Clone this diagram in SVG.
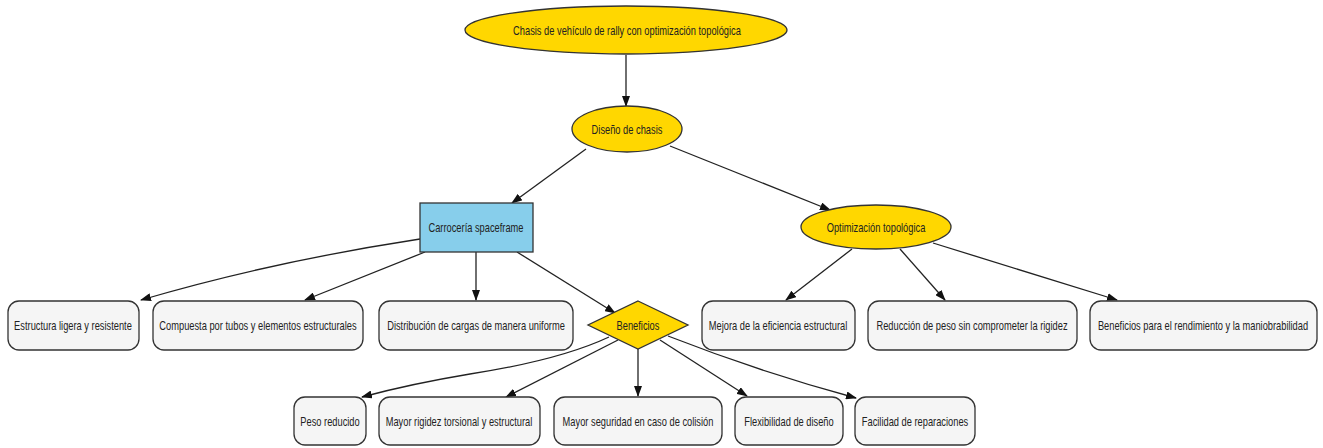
<svg xmlns="http://www.w3.org/2000/svg" width="1323" height="448" viewBox="0 0 1323 448">
<defs>
<marker id="arr" markerWidth="11" markerHeight="8" refX="10" refY="4" orient="auto" markerUnits="userSpaceOnUse">
<path d="M0,0 L11,4 L0,8 z" fill="#111"/>
</marker>
<style>
.t{font-family:"Liberation Sans",Arial,sans-serif;font-size:13px;fill:#222;text-anchor:middle;dominant-baseline:central}
.gold{fill:#FFD700;stroke:#333;stroke-width:1.3}
.box{fill:#F5F5F5;stroke:#333;stroke-width:1.3}
.blue{fill:#87CEEB;stroke:#333;stroke-width:1.3}
.e{fill:none;stroke:#222;stroke-width:1.3;marker-end:url(#arr)}
</style>
</defs>
<rect width="1323" height="448" fill="#fff"/>
<g id="connectors">
<path class="e" d="M626,55 L626,106"/>
<path class="e" d="M586,149 L512,203"/>
<path class="e" d="M670,146 L830,210"/>
<path class="e" d="M420,239 Q270,262 141,300"/>
<path class="e" d="M425,252 L305,300"/>
<path class="e" d="M476,252 L476,300"/>
<path class="e" d="M517,252 L615,313"/>
<path class="e" d="M852,249 L786,300"/>
<path class="e" d="M900,249 L945,300"/>
<path class="e" d="M933,243 L1117,300"/>
<path class="e" d="M609,337 Q560,360 470,374 Q410,384 362,397"/>
<path class="e" d="M618,340 L506,397"/>
<path class="e" d="M638,349 L638,396"/>
<path class="e" d="M660,340 L747,396"/>
<path class="e" d="M668,336 Q760,372 856,398"/>
</g>
<g id="n-title"><ellipse class="gold" cx="626" cy="30" rx="161" ry="24"/><text class="t" transform="translate(627,30) scale(0.715,1)">Chasis de vehículo de rally con optimización topológica</text></g>
<g id="n-diseno"><ellipse class="gold" cx="627" cy="129" rx="55" ry="23"/><text class="t" transform="translate(627,129) scale(0.715,1)">Diseño de chasis</text></g>
<g id="n-carroceria"><rect class="blue" x="420" y="203" width="113" height="49"/><text class="t" transform="translate(476,227) scale(0.715,1)">Carrocería spaceframe</text></g>
<g id="n-optim"><ellipse class="gold" cx="876" cy="227" rx="75" ry="22"/><text class="t" transform="translate(876,227) scale(0.715,1)">Optimización topológica</text></g>
<g id="n-beneficios"><polygon class="gold" points="638,301 688,325 638,349 588,325"/><text class="t" transform="translate(638,325) scale(0.715,1)">Beneficios</text></g>
<g id="n-estructura"><rect class="box" x="8" y="301" width="131" height="49" rx="11"/><text class="t" transform="translate(73,325) scale(0.715,1)">Estructura ligera y resistente</text></g>
<g id="n-compuesta"><rect class="box" x="153" y="301" width="210" height="49" rx="11"/><text class="t" transform="translate(258,325) scale(0.715,1)">Compuesta por tubos y elementos estructurales</text></g>
<g id="n-distribucion"><rect class="box" x="379" y="301" width="194" height="49" rx="11"/><text class="t" transform="translate(476,325) scale(0.715,1)">Distribución de cargas de manera uniforme</text></g>
<g id="n-mejora"><rect class="box" x="702" y="301" width="153" height="49" rx="11"/><text class="t" transform="translate(778,325) scale(0.715,1)">Mejora de la eficiencia estructural</text></g>
<g id="n-reduccion"><rect class="box" x="868" y="301" width="209" height="49" rx="11"/><text class="t" transform="translate(972,325) scale(0.715,1)">Reducción de peso sin comprometer la rigidez</text></g>
<g id="n-rendimiento"><rect class="box" x="1090" y="301" width="227" height="49" rx="11"/><text class="t" transform="translate(1203,325) scale(0.715,1)">Beneficios para el rendimiento y la maniobrabilidad</text></g>
<g id="n-peso"><rect class="box" x="294" y="397" width="72" height="48" rx="11"/><text class="t" transform="translate(330,421) scale(0.715,1)">Peso reducido</text></g>
<g id="n-rigidez"><rect class="box" x="379" y="397" width="161" height="48" rx="11"/><text class="t" transform="translate(459,421) scale(0.715,1)">Mayor rigidez torsional y estructural</text></g>
<g id="n-seguridad"><rect class="box" x="554" y="397" width="168" height="48" rx="11"/><text class="t" transform="translate(638,421) scale(0.715,1)">Mayor seguridad en caso de colisión</text></g>
<g id="n-flex"><rect class="box" x="735" y="397" width="108" height="48" rx="11"/><text class="t" transform="translate(789,421) scale(0.715,1)">Flexibilidad de diseño</text></g>
<g id="n-facilidad"><rect class="box" x="855" y="397" width="120" height="48" rx="11"/><text class="t" transform="translate(915,421) scale(0.715,1)">Facilidad de reparaciones</text></g>
</svg>
